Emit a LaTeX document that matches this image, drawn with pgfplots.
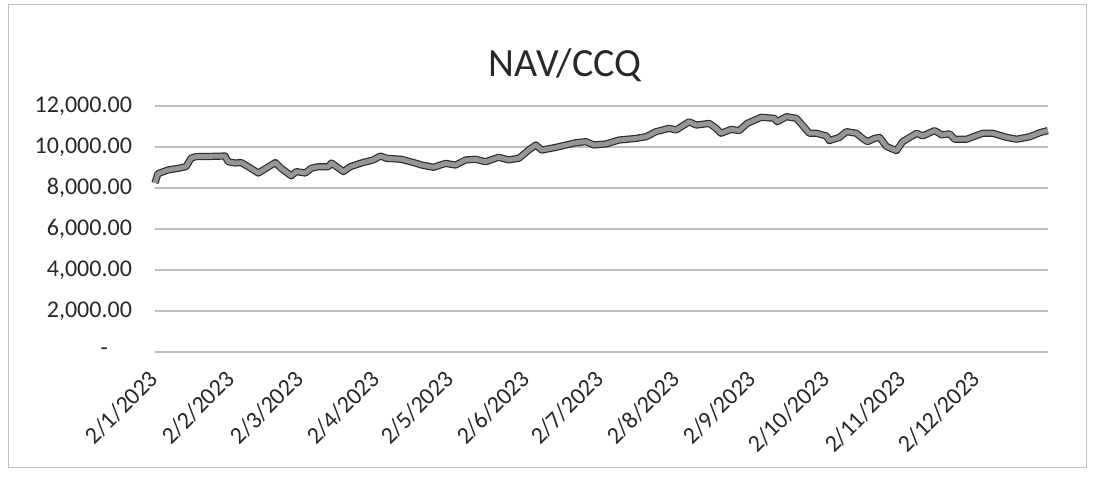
\documentclass[border=0pt]{standalone}
\usepackage{pgfplots}
\pgfplotsset{compat=1.18}
\usepackage{fontspec}
\setmainfont{Carlito}
\definecolor{grid}{RGB}{222,222,222}
\definecolor{txt}{RGB}{40,40,40}
\definecolor{linegray}{RGB}{150,150,150}
\definecolor{lineedge}{RGB}{45,45,45}
\begin{document}
\begin{tikzpicture}
\path (0,0) rectangle (548pt,238.5pt);
\draw[black!25, line width=0.5pt] (4pt,5pt) rectangle (543pt,236pt);
\node[font=\fontsize{20}{24}\selectfont, text=txt] at (282.5pt,206pt) {NAV/CCQ};
\begin{axis}[
  at={(77.5pt,62.5pt)}, anchor=south west,
  width=446.5pt, height=123pt, scale only axis,
  xmin=0, xmax=363, ymin=0, ymax=12000,
  axis line style={draw=none},
  tick style={draw=none},
  xmajorgrids=false,
  ymajorgrids, grid style={grid, line width=0.9pt},
  scaled y ticks=false,
  ytick={0,2000,4000,6000,8000,10000,12000},
  yticklabels={{-\kern12pt},{2,000.00},{4,000.00},{6,000.00},{8,000.00},{10,000.00},{12,000.00}},
  yticklabel style={font=\fontsize{12}{14}\selectfont, text=txt, xshift=-8pt},
  xtick={0,31,59,90,120,151,181,212,243,273,304,334},
  xticklabels={2/1/2023,2/2/2023,2/3/2023,2/4/2023,2/5/2023,2/6/2023,2/7/2023,2/8/2023,2/9/2023,2/10/2023,2/11/2023,2/12/2023},
  xticklabel style={font=\fontsize{12}{14}\selectfont, text=txt, yshift=-9pt, xshift=2pt, rotate=45, anchor=east},
  clip=false,
]
\addplot[lineedge, line width=3.6pt, line join=round] coordinates {
(0,8250)(1.2,8700)(5.3,8880)(9,8950)(12.6,9040)(14.7,9460)(16.7,9530)(22,9540)(28.5,9560)(29.7,9280)(32.6,9220)(35,9240)(37.9,9040)(42,8730)(44,8880)(48.9,9240)(51.3,8960)(55.4,8590)(57.4,8800)(61.1,8730)(63.5,8960)(66.4,9040)(70.5,9040)(71.7,9220)(76.6,8800)(79.4,9040)(83.9,9220)(88.8,9370)(91.6,9560)(94.1,9450)(100.2,9400)(106.3,9200)(108.4,9120)(113.2,9010)(118.1,9200)(122.2,9120)(126.3,9370)(130.3,9400)(134.4,9280)(139.7,9500)(143.8,9370)(147.9,9450)(151.9,9850)(154.8,10100)(157.2,9850)(162.9,9980)(171.1,10210)(175.2,10260)(178.4,10100)(183.3,10150)(188.6,10340)(195.5,10420)(199.6,10500)(203.7,10750)(209,10910)(211.8,10830)(217.1,11230)(220,11070)(225.3,11150)(228.1,10910)(230.1,10670)(234.2,10860)(237.5,10800)(240.7,11150)(246.4,11450)(251.7,11400)(252.9,11230)(256.6,11480)(260.7,11400)(263.1,11070)(266,10670)(268.8,10670)(272.9,10540)(274.1,10310)(278.2,10470)(281.1,10750)(285.1,10670)(287.6,10420)(289.6,10260)(292.5,10420)(294.5,10470)(297.4,10020)(301.4,9820)(303.9,10260)(309.6,10670)(312,10540)(316.9,10800)(319.8,10590)(323,10640)(325,10380)(329.9,10380)(336.5,10670)(340.5,10670)(346.2,10470)(350.3,10380)(355.6,10500)(359.7,10700)(362.9,10800)
};
\addplot[linegray, line width=2.4pt, line join=round] coordinates {
(0,8250)(1.2,8700)(5.3,8880)(9,8950)(12.6,9040)(14.7,9460)(16.7,9530)(22,9540)(28.5,9560)(29.7,9280)(32.6,9220)(35,9240)(37.9,9040)(42,8730)(44,8880)(48.9,9240)(51.3,8960)(55.4,8590)(57.4,8800)(61.1,8730)(63.5,8960)(66.4,9040)(70.5,9040)(71.7,9220)(76.6,8800)(79.4,9040)(83.9,9220)(88.8,9370)(91.6,9560)(94.1,9450)(100.2,9400)(106.3,9200)(108.4,9120)(113.2,9010)(118.1,9200)(122.2,9120)(126.3,9370)(130.3,9400)(134.4,9280)(139.7,9500)(143.8,9370)(147.9,9450)(151.9,9850)(154.8,10100)(157.2,9850)(162.9,9980)(171.1,10210)(175.2,10260)(178.4,10100)(183.3,10150)(188.6,10340)(195.5,10420)(199.6,10500)(203.7,10750)(209,10910)(211.8,10830)(217.1,11230)(220,11070)(225.3,11150)(228.1,10910)(230.1,10670)(234.2,10860)(237.5,10800)(240.7,11150)(246.4,11450)(251.7,11400)(252.9,11230)(256.6,11480)(260.7,11400)(263.1,11070)(266,10670)(268.8,10670)(272.9,10540)(274.1,10310)(278.2,10470)(281.1,10750)(285.1,10670)(287.6,10420)(289.6,10260)(292.5,10420)(294.5,10470)(297.4,10020)(301.4,9820)(303.9,10260)(309.6,10670)(312,10540)(316.9,10800)(319.8,10590)(323,10640)(325,10380)(329.9,10380)(336.5,10670)(340.5,10670)(346.2,10470)(350.3,10380)(355.6,10500)(359.7,10700)(362.9,10800)
};
\end{axis}
\end{tikzpicture}
\end{document}
